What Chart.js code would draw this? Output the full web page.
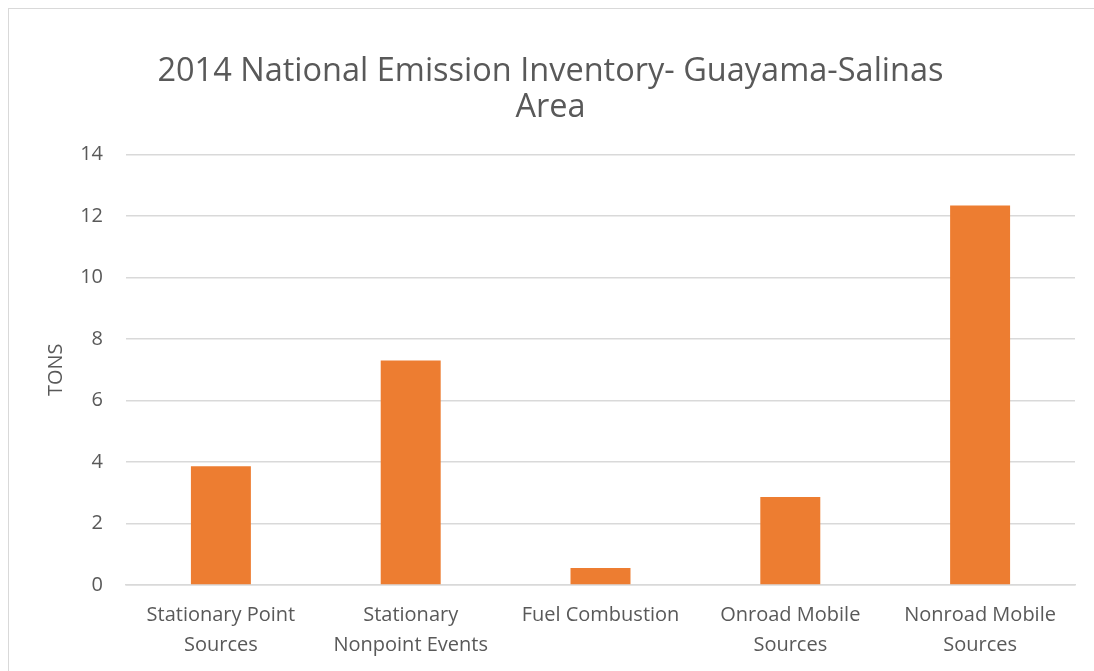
<!DOCTYPE html>
<html>
<head>
<meta charset="utf-8">
<script src="https://cdn.jsdelivr.net/npm/chart.js@4"></script>
<style>
  html, body { margin: 0; padding: 0; background: #fff; }
  #wrap {
    position: absolute; left: 8px; top: 8px;
    width: 1100px; height: 680px;
    border: 1px solid #d9d9d9; box-sizing: border-box;
  }
  #box { position: absolute; left: 0; top: 0; width: 1094px; height: 671px; }
</style>
</head>
<body>
<div id="wrap"></div>
<div id="box"><canvas id="chart"></canvas></div>
<script>
const categories = [
    ['Stationary Point', 'Sources'],
    ['Stationary', 'Nonpoint Events'],
    'Fuel Combustion',
    ['Onroad Mobile', 'Sources'],
    ['Nonroad Mobile', 'Sources']
];
const tons = [3.86, 7.3, 0.55, 2.86, 12.34];
const yTicks = [0, 2, 4, 6, 8, 10, 12, 14];

const textColor = '#595959';
const fontName = "'Open Sans', 'Liberation Sans', sans-serif";

document.addEventListener("DOMContentLoaded", function() {
    const ctx = document.getElementById('chart').getContext('2d');

    new Chart(ctx, {
        type: 'bar',
        data: {
            labels: categories,
            datasets: [{
                label: 'TONS',
                data: tons,
                backgroundColor: '#ed7d31',
                categoryPercentage: 1,
                barPercentage: 0.316
            }]
        },
        options: {
            responsive: true,
            maintainAspectRatio: false,
            animation: false,
            layout: { padding: { left: 26, right: 19, top: 54, bottom: 0 } },
            plugins: {
                legend: { display: false },
                tooltip: { enabled: false },
                title: {
                    display: true,
                    text: ['2014 National Emission Inventory- Guayama-Salinas', 'Area'],
                    color: textColor,
                    font: { family: fontName, size: 32.5, weight: 'normal', lineHeight: 1.1 },
                    padding: { top: 0, bottom: 29 }
                }
            },
            scales: {
                x: {
                    grid: { display: false },
                    border: { color: '#d9d9d9', width: 1.5 },
                    afterFit: function(axis) { axis.height = 86; },
                    ticks: {
                        color: textColor,
                        font: { family: fontName, size: 20, lineHeight: 1.5 },
                        maxRotation: 0,
                        padding: 7
                    }
                },
                y: {
                    min: 0,
                    max: 14,
                    afterBuildTicks: function(axis) {
                        axis.ticks = yTicks.map(v => ({ value: v }));
                    },
                    afterFit: function(axis) { axis.width = 100; },
                    grid: { color: '#d9d9d9', lineWidth: 1.5, drawTicks: false },
                    border: { display: false },
                    ticks: {
                        color: textColor,
                        font: { family: fontName, size: 20 },
                        padding: 23
                    },
                    title: {
                        display: true,
                        text: 'TONS',
                        color: textColor,
                        font: { family: fontName, size: 20 },
                        padding: { top: 18, bottom: 12 }
                    }
                }
            }
        }
    });
});
</script>
</body>
</html>
